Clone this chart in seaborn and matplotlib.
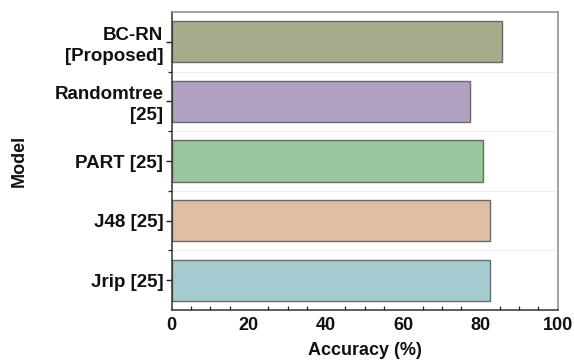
import matplotlib
matplotlib.use("Agg")
import matplotlib.pyplot as plt
from matplotlib.ticker import MultipleLocator, FixedLocator
import seaborn as sns
import pandas as pd

models = ["BC-RN\n[Proposed]", "Randomtree\n[25]", "PART [25]", "J48 [25]", "Jrip [25]"]
accuracy = [85.6, 77.3, 80.7, 82.5, 82.5]
colors = ["#a9ab8d", "#b1a1c1", "#99c69b", "#e0bea1", "#a4cbd0"]

sns.set_theme(style="white")
plt.rcParams["font.family"] = ["Liberation Sans", "DejaVu Sans"]
plt.rcParams["font.weight"] = "bold"

df = pd.DataFrame({"Model": models, "Accuracy": accuracy})

fig = plt.figure(figsize=(5.74, 3.61), dpi=100)
ax = fig.add_axes([171.7 / 574, 1 - 310 / 361, (557.7 - 171.7) / 574, (310 - 12) / 361])

sns.barplot(data=df, x="Accuracy", y="Model", hue="Model", palette=colors,
            saturation=1, orient="h", width=0.69, edgecolor="#6a6a6a", linewidth=1.0,
            legend=False, ax=ax)

ax.set_xlim(0, 100)
ax.set_ylim(4.5, -0.5)
ax.xaxis.set_major_locator(MultipleLocator(20))
ax.xaxis.set_minor_locator(MultipleLocator(5))
ax.yaxis.set_minor_locator(FixedLocator([0.5, 1.5, 2.5, 3.5]))

for y in [0.5, 1.5, 2.5, 3.5]:
    ax.axhline(y, color="#f0f0f0", lw=0.8, zorder=0)

ax.tick_params(axis="x", which="major", direction="inout", length=6, width=1.0,
               colors="#222222", labelsize=13, pad=2)
ax.tick_params(axis="x", which="minor", direction="in", length=3, width=0.9,
               colors="#222222", bottom=True)
ax.tick_params(axis="y", which="major", direction="out", length=4, width=1.0,
               colors="#222222", labelsize=13.5, pad=2, left=True)
ax.tick_params(axis="y", which="minor", direction="out", length=3, width=0.9,
               colors="#222222", left=True)
for lab in ax.get_xticklabels() + ax.get_yticklabels():
    lab.set_fontweight("bold")
    lab.set_color("#111111")
for lab in ax.get_yticklabels():
    lab.set_linespacing(1.3)

for s in ["left", "bottom"]:
    ax.spines[s].set_color("#333333")
    ax.spines[s].set_linewidth(1.1)
for s in ["top", "right"]:
    ax.spines[s].set_color("#888888")
    ax.spines[s].set_linewidth(1.1)

ax.set_xlabel("Accuracy (%)", fontsize=13, fontweight="bold", color="#111111", labelpad=6)
ax.set_ylabel("Model", fontsize=13, fontweight="bold", color="#111111", labelpad=19)

fig.savefig("out.png", dpi=100)
